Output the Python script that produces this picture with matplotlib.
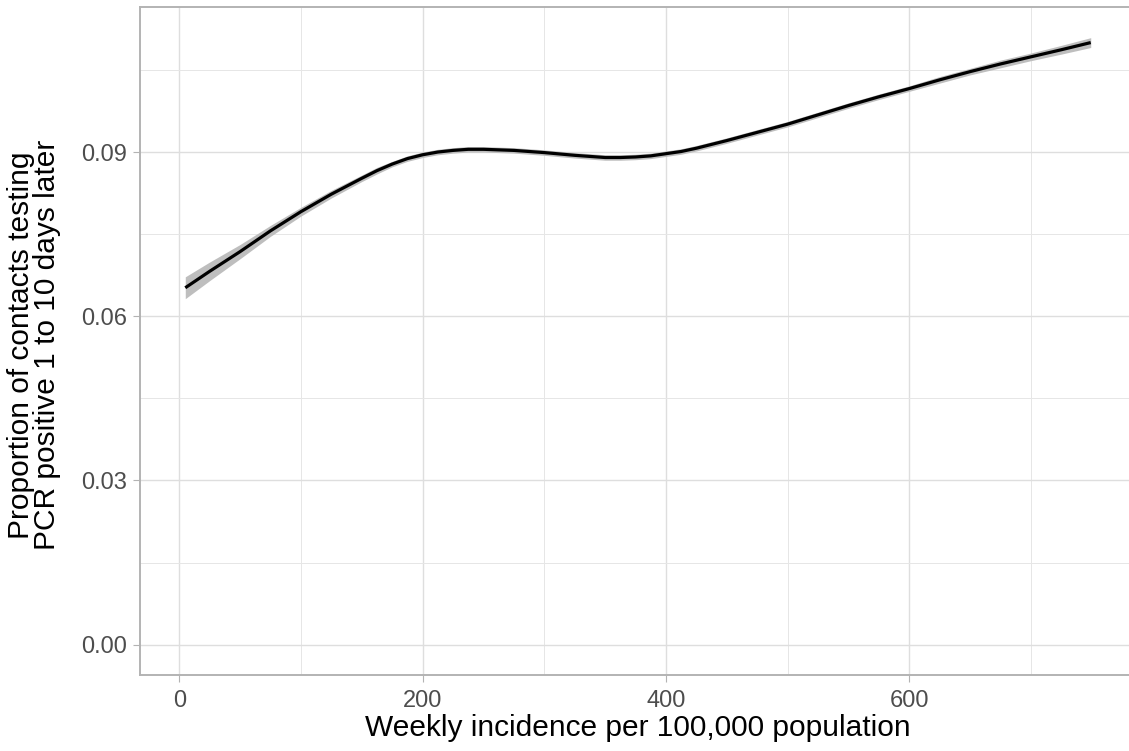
import matplotlib
matplotlib.use("Agg")
import matplotlib.pyplot as plt
import numpy as np

# smoothed proportion of contacts PCR positive vs weekly incidence
incidence = [5, 25, 50, 75, 100, 125, 150, 162.5, 175, 187.5, 200, 212.5, 225, 237.5,
             250, 262.5, 275, 300, 325, 337.5, 350, 362.5, 375, 387.5, 400, 412.5, 425,
             450, 475, 500, 525, 550, 575, 600, 625, 650, 675, 700, 725, 749]
proportion = [0.0652, 0.0682, 0.0718, 0.0756, 0.0791, 0.0823, 0.0852, 0.0866, 0.0878,
              0.0888, 0.0895, 0.0900, 0.0903, 0.0905, 0.0905, 0.0904, 0.0903, 0.0899,
              0.0894, 0.0892, 0.0890, 0.0890, 0.0891, 0.0893, 0.0897, 0.0901, 0.0907,
              0.0921, 0.0936, 0.0951, 0.0968, 0.0985, 0.1001, 0.1016, 0.1032, 0.1047,
              0.1061, 0.1074, 0.1087, 0.1100]
# half width of the confidence band
band = [0.0020, 0.0017, 0.0013, 0.0010, 0.0008, 0.0007, 0.0006, 0.0006, 0.0005,
        0.0005, 0.0005, 0.0005, 0.0005, 0.0005, 0.0005, 0.0005, 0.0005, 0.0005,
        0.0005, 0.0005, 0.0005, 0.0005, 0.0005, 0.0005, 0.0005, 0.0005, 0.0005,
        0.0005, 0.0005, 0.0005, 0.0005, 0.0005, 0.0005, 0.0005, 0.0006, 0.0006,
        0.0007, 0.0007, 0.0008, 0.0009]

xticks = [0, 200, 400, 600]
yticks = [0.00, 0.03, 0.06, 0.09]
ytick_labels = ["0.00", "0.03", "0.06", "0.09"]

plt.rcParams['font.family'] = ['Liberation Sans', 'DejaVu Sans']

fig = plt.figure(figsize=(11.29, 7.51), dpi=100)
ax = fig.add_axes([140 / 1129, 76 / 751, 996 / 1129, 668 / 751])

x = np.array(incidence)
y = np.array(proportion)
hw = np.array(band)

ax.fill_between(x, y - hw, y + hw, color='#BEBEBE', linewidth=0, zorder=2)
ax.plot(x, y, color='black', linewidth=2.3, zorder=3,
        solid_capstyle='butt', solid_joinstyle='round')

ax.set_xlim(-32.2, 786.2)
ax.set_ylim(-0.00555, 0.1165)

ax.set_xticks(xticks)
ax.set_xticklabels([str(t) for t in xticks])
ax.set_yticks(yticks)
ax.set_yticklabels(ytick_labels)
ax.set_xticks([100, 300, 500, 700], minor=True)
ax.set_yticks([0.015, 0.045, 0.075, 0.105], minor=True)

ax.grid(which='major', color='#DEDEDE', linewidth=1.0, zorder=0)
ax.grid(which='minor', color='#E6E6E6', linewidth=0.7, zorder=0)
ax.set_axisbelow(True)

for s in ax.spines.values():
    s.set_color('#B3B3B3')
    s.set_linewidth(1.4)
# panel runs past the right edge of the canvas
ax.spines['right'].set_visible(False)

ax.tick_params(which='major', length=5, width=0.8, color='#B3B3B3',
               labelsize=17, labelcolor='#4D4D4D')
ax.tick_params(axis='x', which='major', pad=6)
ax.tick_params(axis='y', which='major', pad=4)
ax.tick_params(which='minor', length=0)

fig.text(637.5 / 1129, 0.031, "Weekly incidence per 100,000 population",
         ha='center', va='center', fontsize=21.5)
fig.text(34 / 1129, (751 - 345) / 751,
         "Proportion of contacts testing\nPCR positive 1 to 10 days later",
         ha='center', va='center', rotation=90, fontsize=21.5,
         multialignment='center', linespacing=0.95)

fig.savefig("out.png", dpi=100)
